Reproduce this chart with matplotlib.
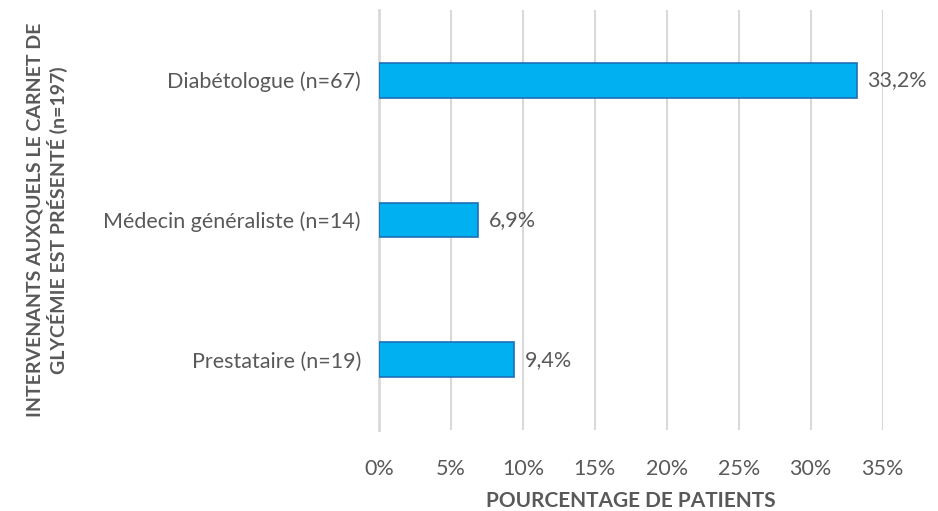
import numpy as np
import matplotlib.pyplot as plt
from matplotlib.ticker import FuncFormatter

categories = ['Diabétologue (n=67)', 'Médecin généraliste (n=14)', 'Prestataire (n=19)']
values = [33.2, 6.9, 9.4]
labels = ['33,2%', '6,9%', '9,4%']

plt.rcParams['font.family'] = ['Lato', 'DejaVu Sans']
grey = '#595959'

fig = plt.figure(figsize=(9.38, 5.11), dpi=100)
ax = fig.add_axes([0.404, 0.159, 0.537, 0.821])

y = np.arange(len(categories))[::-1]
ax.barh(y, values, height=0.25, color='#00B0F0', edgecolor='#1F6FB5', linewidth=1.2, zorder=3)
for yi, v, lab in zip(y, values, labels):
    ax.text(v + 0.75, yi, lab, va='center', ha='left', fontsize=15.5, color=grey)

ax.set_xlim(0, 35)
ax.set_ylim(-0.5, 2.5)
ax.set_xticks(np.arange(0, 36, 5))
ax.xaxis.set_major_formatter(FuncFormatter(lambda v, p: f'{v:.0f}%'))
ax.set_yticks(y)
ax.set_yticklabels(categories)
ax.tick_params(axis='both', length=0, labelsize=15.5, labelcolor=grey)
ax.tick_params(axis='x', pad=21)
ax.tick_params(axis='y', pad=13)
ax.grid(axis='x', color='#D9D9D9', linewidth=1.5, zorder=0)
for s in ['top', 'right', 'bottom']:
    ax.spines[s].set_visible(False)
ax.spines['left'].set_color('#D9D9D9')
ax.spines['left'].set_linewidth(2)

ax.set_xlabel('POURCENTAGE DE PATIENTS', fontsize=15, fontweight='bold', color=grey, labelpad=9)
fig.text(0.05, 0.57, 'INTERVENANTS AUXQUELS LE CARNET DE\nGLYCÉMIE EST PRÉSENTÉ (n=197)',
         rotation=90, ha='center', va='center', fontsize=14, fontweight='bold', color=grey,
         linespacing=1.2)

fig.savefig('out.png', dpi=100)
